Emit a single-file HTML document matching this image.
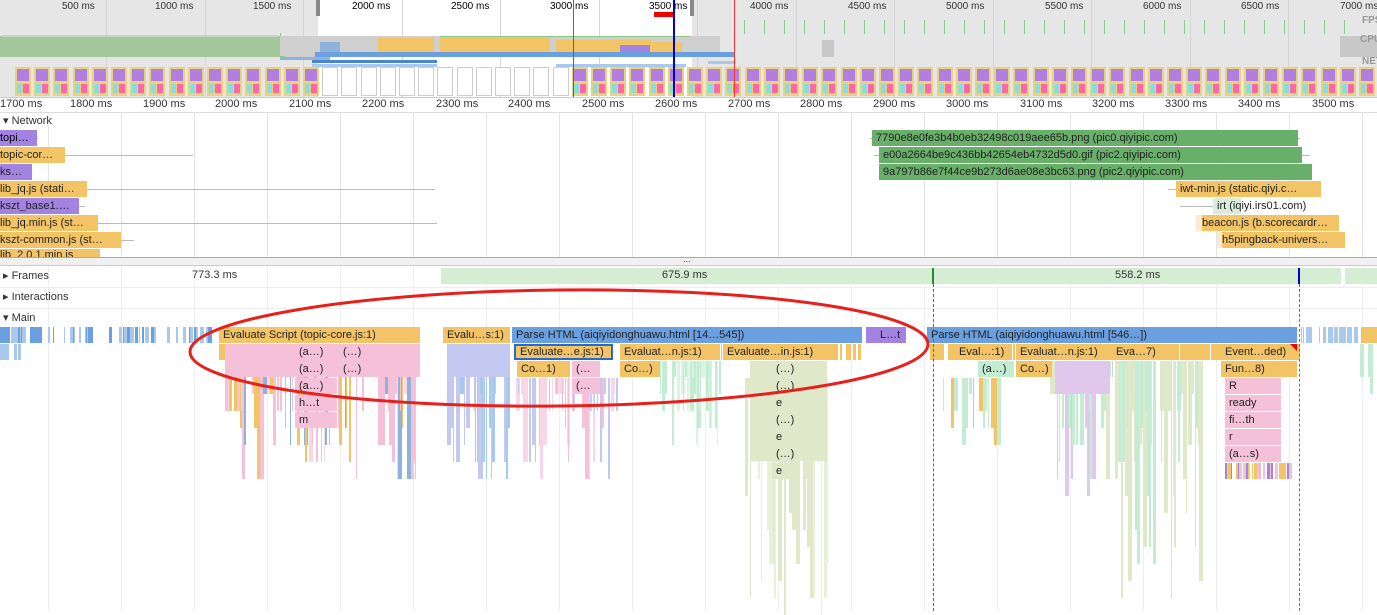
<!DOCTYPE html>
<html><head><meta charset="utf-8">
<style>
*{margin:0;padding:0;box-sizing:border-box}
body{width:1377px;height:611px;overflow:hidden;background:#fff;font-family:"Liberation Sans",sans-serif;font-size:11px;color:#222;position:relative}
.a{position:absolute}
.t{position:absolute;white-space:nowrap;overflow:hidden;line-height:16px;padding-left:4px;font-size:11px;color:#222;z-index:3}
.lbl{position:absolute;font-size:10px;color:#333;white-space:nowrap;z-index:3}
.z{z-index:2}
.y{background:#f3c466}.p{background:#f4c1d9}.b{background:#6aa0e0}.pu{background:#a283e2}.g{background:#68b06a}
.lb{background:#c4c9f1}.lg{background:#c3ecd3}.ol{background:#dfe9c9}
#fl{position:absolute;left:0;top:0;z-index:1}
</style></head><body>
<div id="fl"></div>
<!-- overview -->
<div class="a" style="left:0;top:0;width:1377px;height:97px;background:#e6e6e6;z-index:0"></div>
<div class="a" style="left:318px;top:0;width:374px;height:97px;background:#fff;z-index:0"></div>
<div class="a z" style="left:316px;top:0;width:4px;height:16px;background:#888"></div>
<div class="a z" style="left:690px;top:0;width:4px;height:16px;background:#888"></div>
<div class="lbl" style="left:62px;top:1px">500 ms</div>
<div class="lbl" style="left:155px;top:1px">1000 ms</div>
<div class="lbl" style="left:253px;top:1px">1500 ms</div>
<div class="lbl" style="left:352px;top:1px;color:#000">2000 ms</div>
<div class="lbl" style="left:451px;top:1px;color:#000">2500 ms</div>
<div class="lbl" style="left:550px;top:1px;color:#000">3000 ms</div>
<div class="lbl" style="left:649px;top:1px;color:#000">3500 ms</div>
<div class="lbl" style="left:750px;top:1px">4000 ms</div>
<div class="lbl" style="left:848px;top:1px">4500 ms</div>
<div class="lbl" style="left:946px;top:1px">5000 ms</div>
<div class="lbl" style="left:1045px;top:1px">5500 ms</div>
<div class="lbl" style="left:1143px;top:1px">6000 ms</div>
<div class="lbl" style="left:1241px;top:1px">6500 ms</div>
<div class="lbl" style="left:1340px;top:1px">7000 ms</div>
<div class="lbl" style="left:1362px;top:15px;color:#999;font-weight:bold">FPS</div>
<div class="lbl" style="left:1360px;top:34px;color:#999;font-weight:bold">CPU</div>
<div class="lbl" style="left:1362px;top:56px;color:#999;font-weight:bold">NET</div>
<div class="a z" style="left:654px;top:12px;width:20px;height:5px;background:#e00"></div>
<div class="a z" style="left:573px;top:0;width:1px;height:97px;background:#0a0"></div>
<div class="a z" style="left:673px;top:0;width:2px;height:97px;background:#00c"></div>
<div class="a z" style="left:734px;top:0;width:1px;height:97px;background:#e33"></div>
<!-- ruler -->
<div class="a" style="left:0;top:97px;width:1377px;height:16px;background:#fff;border-top:1px solid #ccc;border-bottom:1px solid #ddd;z-index:0"></div>
<div class="lbl" style="left:0;top:98px;font-size:11px">1700 ms</div>
<div class="lbl" style="left:70px;top:98px;font-size:11px">1800 ms</div>
<div class="lbl" style="left:143px;top:98px;font-size:11px">1900 ms</div>
<div class="lbl" style="left:215px;top:98px;font-size:11px">2000 ms</div>
<div class="lbl" style="left:289px;top:98px;font-size:11px">2100 ms</div>
<div class="lbl" style="left:362px;top:98px;font-size:11px">2200 ms</div>
<div class="lbl" style="left:436px;top:98px;font-size:11px">2300 ms</div>
<div class="lbl" style="left:508px;top:98px;font-size:11px">2400 ms</div>
<div class="lbl" style="left:582px;top:98px;font-size:11px">2500 ms</div>
<div class="lbl" style="left:655px;top:98px;font-size:11px">2600 ms</div>
<div class="lbl" style="left:728px;top:98px;font-size:11px">2700 ms</div>
<div class="lbl" style="left:800px;top:98px;font-size:11px">2800 ms</div>
<div class="lbl" style="left:873px;top:98px;font-size:11px">2900 ms</div>
<div class="lbl" style="left:946px;top:98px;font-size:11px">3000 ms</div>
<div class="lbl" style="left:1020px;top:98px;font-size:11px">3100 ms</div>
<div class="lbl" style="left:1092px;top:98px;font-size:11px">3200 ms</div>
<div class="lbl" style="left:1165px;top:98px;font-size:11px">3300 ms</div>
<div class="lbl" style="left:1238px;top:98px;font-size:11px">3400 ms</div>
<div class="lbl" style="left:1312px;top:98px;font-size:11px">3500 ms</div>
<!-- network -->
<div class="lbl" style="left:3px;top:114px;font-size:11px;background:#fff">▾ Network</div>
<div class="a z" style="left:30px;top:138px;width:8px;height:1px;background:#aaa"></div>
<div class="t pu" style="left:0;top:130px;width:37px;color:#000;padding-left:0">topi…</div>
<div class="a z" style="left:60px;top:155px;width:133px;height:1px;background:#bbb"></div>
<div class="t y" style="left:0;top:147px;width:65px;padding-left:0">topic-cor…</div>
<div class="t pu" style="left:0;top:164px;width:32px;padding-left:0">ks…</div>
<div class="a z" style="left:80px;top:189px;width:355px;height:1px;background:#bbb"></div>
<div class="t y" style="left:0;top:181px;width:87px;padding-left:0">lib_jq.js (stati…</div>
<div class="a z" style="left:75px;top:206px;width:10px;height:1px;background:#bbb"></div>
<div class="t pu" style="left:0;top:198px;width:79px;padding-left:0">kszt_base1.…</div>
<div class="a z" style="left:90px;top:223px;width:347px;height:1px;background:#bbb"></div>
<div class="t y" style="left:0;top:215px;width:98px;padding-left:0">lib_jq.min.js (st…</div>
<div class="a z" style="left:115px;top:240px;width:19px;height:1px;background:#bbb"></div>
<div class="t y" style="left:0;top:232px;width:121px;padding-left:0">kszt-common.js (st…</div>
<div class="t y" style="left:0;top:249px;width:100px;height:9px;padding-left:0;line-height:12px">lib_2.0.1.min.js</div>
<div class="a z" style="left:870px;top:138px;width:430px;height:1px;background:#bbb"></div>
<div class="t g" style="left:872px;top:130px;width:426px">7790e8e0fe3b4b0eb32498c019aee65b.png (pic0.qiyipic.com)</div>
<div class="a z" style="left:874px;top:155px;width:436px;height:1px;background:#bbb"></div>
<div class="t g" style="left:879px;top:147px;width:423px">e00a2664be9c436bb42654eb4732d5d0.gif (pic2.qiyipic.com)</div>
<div class="t g" style="left:879px;top:164px;width:433px">9a797b86e7f44ce9b273d6ae08e3bc63.png (pic2.qiyipic.com)</div>
<div class="a z" style="left:1168px;top:189px;width:10px;height:1px;background:#bbb"></div>
<div class="t y" style="left:1176px;top:181px;width:145px">iwt-min.js (static.qiyi.c…</div>
<div class="a z" style="left:1180px;top:206px;width:35px;height:1px;background:#bbb"></div>
<div class="a z" style="left:1213px;top:198px;width:28px;height:16px;background:#dcecdc"></div>
<div class="t g" style="left:1241px;top:198px;width:113px"></div>
<div class="t" style="left:1213px;top:198px;width:140px;z-index:4">irt (iqiyi.irs01.com)</div>
<div class="a z" style="left:1196px;top:215px;width:8px;height:16px;background:#fbead0"></div>
<div class="t y" style="left:1202px;top:215px;width:137px;padding-left:0">beacon.js (b.scorecardr…</div>
<div class="a z" style="left:1217px;top:232px;width:6px;height:16px;background:#fbead0"></div>
<div class="t y" style="left:1222px;top:232px;width:123px;padding-left:0">h5pingback-univers…</div>
<!-- splitter -->
<div class="a" style="left:0;top:257px;width:1377px;height:9px;background:#f0f0f0;border-top:1px solid #aaa;border-bottom:1px solid #ccc;z-index:3"></div>
<div class="lbl" style="left:683px;top:254px;font-size:9px;z-index:4">...</div>
<!-- frames -->
<div class="a z" style="left:0;top:287px;width:1377px;height:1px;background:#eee"></div>
<div class="a z" style="left:0;top:308px;width:1377px;height:1px;background:#eee"></div>
<div class="a z" style="left:441px;top:268px;width:900px;height:16px;background:#d5eed3"></div>
<div class="a z" style="left:1345px;top:268px;width:32px;height:16px;background:#d5eed3"></div>
<div class="a z" style="left:932px;top:268px;width:2px;height:16px;background:#2a8a2a"></div>
<div class="a z" style="left:1298px;top:268px;width:2px;height:16px;background:#00c"></div>
<div class="lbl" style="left:3px;top:269px;font-size:11px">▸ Frames</div>
<div class="lbl" style="left:192px;top:269px;font-size:11px">773.3 ms</div>
<div class="lbl" style="left:662px;top:269px;font-size:11px">675.9 ms</div>
<div class="lbl" style="left:1115px;top:269px;font-size:11px">558.2 ms</div>
<div class="lbl" style="left:3px;top:290px;font-size:11px">▸ Interactions</div>
<div class="lbl" style="left:3px;top:311px;font-size:11px">▾ Main</div>
<!-- main blocks -->
<div class="t y" style="left:219px;top:327px;width:201px">Evaluate Script (topic-core.js:1)</div>
<div class="t y" style="left:443px;top:327px;width:67px">Evalu…s:1)</div>
<div class="t b" style="left:512px;top:327px;width:350px">Parse HTML (aiqiyidonghuawu.html [14…545])</div>
<div class="t pu" style="left:866px;top:327px;width:40px;padding-left:14px">L…t</div>
<div class="t b" style="left:927px;top:327px;width:370px">Parse HTML (aiqiyidonghuawu.html [546…])</div>
<div class="t y" style="left:514px;top:344px;width:99px;border:2px solid #2a6ad0;line-height:12px">Evaluate…e.js:1)</div>
<div class="t y" style="left:620px;top:344px;width:100px">Evaluat…n.js:1)</div>
<div class="t y" style="left:723px;top:344px;width:102px">Evaluate…in.js:1)</div>
<div class="t y" style="left:955px;top:344px;width:55px">Eval…:1)</div>
<div class="t y" style="left:1016px;top:344px;width:93px">Evaluat…n.js:1)</div>
<div class="t y" style="left:1112px;top:344px;width:60px">Eva…7)</div>
<div class="t y" style="left:1221px;top:344px;width:76px">Event…ded)</div>
<div class="a" style="left:1290px;top:344px;width:0;height:0;border-left:7px solid transparent;border-top:7px solid #e00;z-index:4"></div>
<div class="t y" style="left:517px;top:361px;width:53px">Co…1)</div>
<div class="t y" style="left:620px;top:361px;width:40px">Co…)</div>
<div class="t y" style="left:1016px;top:361px;width:36px">Co…)</div>
<div class="t y" style="left:1221px;top:361px;width:76px">Fun…8)</div>
<div class="t lg" style="left:978px;top:361px;width:36px">(a…)</div>
<div class="t p" style="left:1225px;top:378px;width:56px">R</div>
<div class="t p" style="left:1225px;top:395px;width:56px">ready</div>
<div class="t p" style="left:1225px;top:412px;width:56px">fi…th</div>
<div class="t p" style="left:1225px;top:429px;width:56px">r</div>
<div class="t p" style="left:1225px;top:446px;width:56px">(a…s)</div>
<div class="t p" style="left:295px;top:344px;width:42px">(a…)</div>
<div class="t p" style="left:339px;top:344px;width:30px">(…)</div>
<div class="t p" style="left:295px;top:361px;width:42px">(a…)</div>
<div class="t p" style="left:339px;top:361px;width:30px">(…)</div>
<div class="t p" style="left:295px;top:378px;width:42px">(a…)</div>
<div class="t p" style="left:295px;top:395px;width:42px">h…t</div>
<div class="t p" style="left:295px;top:412px;width:42px">m</div>
<div class="t p" style="left:572px;top:361px;width:28px">(…</div>
<div class="t p" style="left:572px;top:378px;width:28px">(…</div>
<div class="t ol" style="left:772px;top:361px;width:28px">(…)</div>
<div class="t ol" style="left:772px;top:378px;width:28px">(…)</div>
<div class="t ol" style="left:772px;top:395px;width:28px">e</div>
<div class="t ol" style="left:772px;top:412px;width:28px">(…)</div>
<div class="t ol" style="left:772px;top:429px;width:28px">e</div>
<div class="t ol" style="left:772px;top:446px;width:28px">(…)</div>
<div class="t ol" style="left:772px;top:463px;width:28px">e</div>
<div class="a" style="left:933px;top:284px;width:0;height:327px;border-left:1px dashed #2a8a2a;z-index:4"></div>
<div class="a" style="left:1299px;top:284px;width:0;height:327px;border-left:1px dashed #66c;z-index:4"></div>
<svg class="a" style="left:0;top:0;z-index:5" width="1377" height="611"><ellipse cx="559" cy="348" rx="369" ry="58" fill="none" stroke="#e8201c" stroke-width="3" transform="rotate(-0.6 559 348)"/></svg>
<script>
(function(){
var s=7;function r(){s=(s*9301+49297)%233280;return s/233280;}
var h='';
function d(x,y,w,hh,c){h+='<div class="a" style="left:'+x+'px;top:'+y+'px;width:'+w+'px;height:'+hh+'px;background:'+c+'"></div>';}
// grid
for(var k=0;k<19;k++){var gx=48+73*k;d(gx,113,1,144,'#e4e4e4');d(gx,266,1,345,'#eee');}
for(var k=0;k<14;k++){d(106+98.5*k,0,1,97,'#d4d4d4');}
// overview
d(0,36,280,21,'#a3c79b');d(2,35,276,2,'#c0d8bb');
d(280,36,440,21,'#cfcfcf');
d(378,38,56,19,'#f3c466');d(440,37,110,20,'#f3c466');d(556,40,95,17,'#f3c466');d(652,42,30,15,'#f3c466');
d(320,42,20,15,'#8fb2dc');d(620,45,30,12,'#a283e2');d(315,52,420,5,'#6aa0e0');
d(280,33,1,3,'#8c8');d(440,36,250,1,'#8c8');d(280,56,5,1,'#8c8');
d(280,57,50,3,'#8fb2dc');d(312,60,125,3,'#4a86d0');d(312,64,125,3,'#a9c9ec');d(556,64,130,3,'#a9c9ec');d(708,61,28,3,'#a9c9ec');
d(822,40,12,17,'#c8c8c8');d(1340,36,37,21,'#c8c8c8');
for(var x=744;x<1360;x+=20){d(x,20,1,14,'#8c8');}
for(var i=0;i<72;i++){var x=15+i*19.2;if(x>1377)break;
 var blank=(x>318&&x<555);
 if(blank){d(x,67,16,29,'#fff');h+='<div class="a" style="left:'+x+'px;top:67px;width:16px;height:29px;border:1px solid #ccc"></div>';}
 else{d(x,67,16,29,'#e8d37a');d(x+2,69,12,12,'#b47ee0');d(x+2,84,5,9,'#8dd');d(x+8,84,6,9,'#f6a');}}
// flame noise
function cols(x0,x1,y0,maxr,cs,dens){for(var x=x0;x<x1;x+=1+Math.floor(r()*3)){if(r()>dens)continue;var n=1+Math.floor(r()*maxr);var w=1+Math.floor(r()*4);var c=cs[Math.floor(r()*cs.length)];d(x,y0,w,n*17-1,c);}}
var bl=['#a9c9ec','#6aa0e0','#a9c9ec'];
cols(0,210,327,1,bl,0.4);d(0,327,10,16,'#6aa0e0');d(30,327,12,16,'#6aa0e0');
cols(0,20,344,1,['#a9c9ec'],0.5);
cols(225,420,344,8,['#f4c1d9','#f4c1d9','#f8d6e6','#f3c466','#8fb2dc'],0.9);
d(225,344,195,33,'#f4c1d9');d(219,344,6,16,'#f3c466');
cols(447,510,344,8,['#c4c9f1','#c4c9f1','#a9c9ec'],0.9);d(447,344,63,33,'#c4c9f1');
cols(515,620,378,6,['#f4c1d9','#f8d6e6','#c4c9f1'],0.7);
cols(660,720,361,5,['#c3ecd3','#d8f4e2'],0.8);
cols(745,828,378,14,['#dfe9c9','#e8f0d8'],0.95);d(750,361,77,100,'#dfe9c9');
cols(720,860,344,1,['#f3c466'],0.6);
cols(930,1300,344,1,['#f3c466'],0.9);
cols(1050,1120,361,8,['#e0c8ec','#c3ecd3','#dfe9c9'],0.9);d(1055,361,55,33,'#e0c8ec');
cols(1115,1200,361,14,['#dfe9c9','#c3ecd3'],0.8);
cols(940,1000,378,4,['#c3ecd3','#f3c466'],0.6);
cols(1300,1377,327,1,['#a9c9ec'],0.5);d(1362,327,15,16,'#f3c466');cols(1360,1377,344,4,['#c3ecd3'],0.6);
cols(1225,1290,463,1,['#a283e2','#f4c1d9','#f3c466'],0.9);
document.getElementById('fl').innerHTML=h;
})();
</script>
</body></html>
